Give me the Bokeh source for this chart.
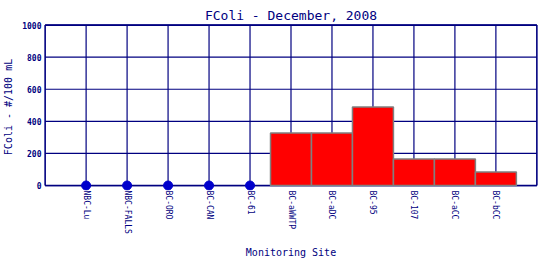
from bokeh.plotting import figure
from bokeh.models import FixedTicker, Range1d
from bokeh.embed import file_html
from bokeh.resources import INLINE

sites = ["NBC-Lu", "NBC-FALLS", "BC-ORO", "BC-CAN", "BC-61", "BC-aWWTP",
         "BC-aDC", "BC-95", "BC-107", "BC-aCC", "BC-bCC"]
fcoli = [0, 0, 0, 0, 0, 327, 327, 489, 166, 166, 85]
y_ticks = [0, 200, 400, 600, 800, 1000]

NAVY = "#000080"
FONT = "DejaVu Sans Mono"

xs = list(range(1, len(sites) + 1))
x_lo, x_hi = 0, len(sites) + 1
y_lo, y_hi = y_ticks[0], y_ticks[-1]

p = figure(width=540, height=260, output_backend="svg", toolbar_location=None,
           x_range=Range1d(x_lo - 0.04, x_hi + 0.04),
           y_range=Range1d(y_lo - 31, y_hi + 10),
           min_border_left=40, min_border_right=2, min_border_top=23, min_border_bottom=70,
           title="FColi - December, 2008")

p.title.align = "center"
p.title.text_font = FONT
p.title.text_font_size = "13px"
p.title.text_font_style = "normal"
p.title.text_color = NAVY
p.title.standoff = 2

# grid lines (bounded to the data area)
p.segment(x0=xs, y0=[y_lo] * len(xs), x1=xs, y1=[y_hi] * len(xs),
          line_color=NAVY, line_width=1.2)
p.segment(x0=[x_lo] * len(y_ticks), y0=y_ticks, x1=[x_hi] * len(y_ticks), y1=y_ticks,
          line_color=NAVY, line_width=1.2)
# frame border
p.segment(x0=[x_lo, x_hi], y0=[y_lo, y_lo], x1=[x_lo, x_hi], y1=[y_hi, y_hi],
          line_color=NAVY, line_width=1.6)
p.segment(x0=[x_lo, x_lo], y0=[y_lo, y_hi], x1=[x_hi, x_hi], y1=[y_lo, y_hi],
          line_color=NAVY, line_width=1.6)

bar_x = [x for x, v in zip(xs, fcoli) if v > 0]
bar_v = [v for v in fcoli if v > 0]
p.vbar(x=bar_x, top=bar_v, bottom=0, width=1.0, fill_color="#ff0000",
       line_color="#808080", line_width=1.5)

zero_x = [x for x, v in zip(xs, fcoli) if v == 0]
p.scatter(x=zero_x, y=[0] * len(zero_x), size=9, fill_color="#0000cc",
          line_color="#0000cc")

p.xaxis.ticker = FixedTicker(ticks=xs)
p.xaxis.major_label_overrides = {x: s for x, s in zip(xs, sites)}
p.xaxis.major_label_orientation = "vertical"
p.yaxis.ticker = FixedTicker(ticks=y_ticks)

for ax in (p.xaxis[0], p.yaxis[0]):
    ax.axis_line_color = None
    ax.major_tick_line_color = None
    ax.minor_tick_line_color = None
    ax.major_tick_out = 0
    ax.major_tick_in = 0
    ax.major_label_text_color = NAVY
    ax.major_label_text_font = FONT
    ax.major_label_text_font_size = "8px"
    ax.axis_label_text_color = NAVY
    ax.axis_label_text_font = FONT
    ax.axis_label_text_font_size = "10px"
    ax.axis_label_text_font_style = "normal"

p.yaxis.major_label_text_font_style = "bold"
p.yaxis.major_label_standoff = 2
p.xaxis.major_label_standoff = 0
p.yaxis.axis_label_standoff = 5
p.xaxis.axis_label_standoff = 10
p.xaxis.axis_label = "Monitoring Site"
p.yaxis.axis_label = "FColi - #/100 mL"

p.grid.grid_line_color = None
p.outline_line_color = None
p.background_fill_color = "white"
p.border_fill_color = "white"

open("out.html", "w").write(file_html(p, INLINE))
